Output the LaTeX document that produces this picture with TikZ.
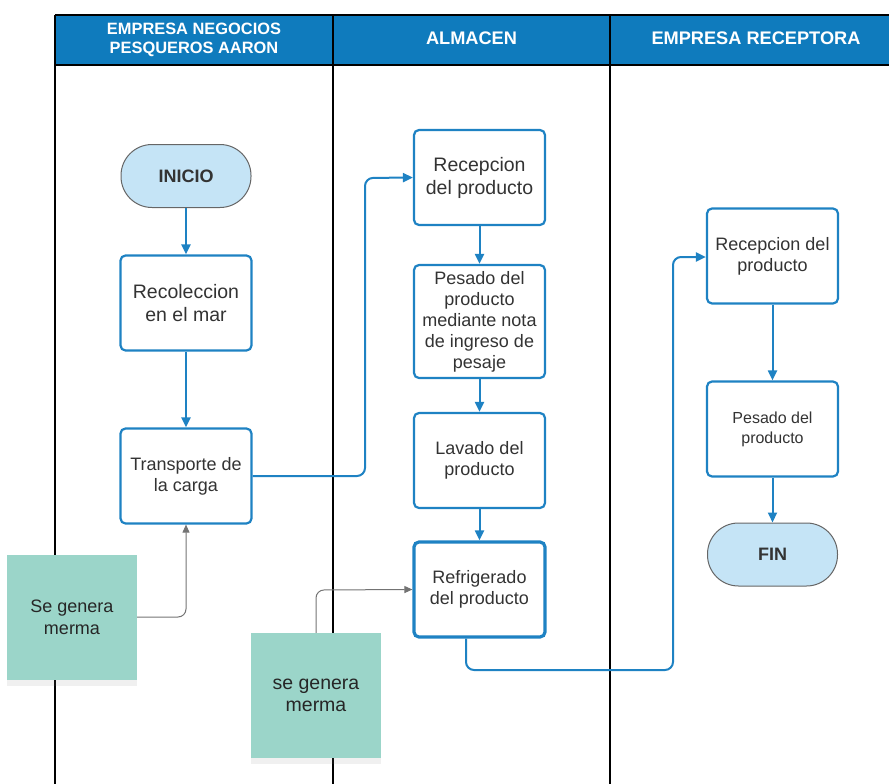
\documentclass[tikz,border=0pt]{standalone}
\usepackage{fontspec}
\setmainfont{Liberation Sans}
\usetikzlibrary{arrows.meta,shadows}
\definecolor{laneblue}{HTML}{0F7BBD}
\definecolor{boxblue}{HTML}{1E82C3}
\definecolor{termfill}{HTML}{C5E4F6}
\definecolor{notefill}{HTML}{9BD5C9}
\definecolor{txtgray}{HTML}{333333}

\begin{document}
\begin{tikzpicture}[x=1pt, y=-1pt,
    lanehead/.style={font=\bfseries\fontsize{18.2}{19}\selectfont, text=white, align=center},
    procbox/.style={draw=boxblue, line width=2.2pt, rounded corners=5pt, fill=white,
      minimum width=131pt, minimum height=95pt, align=center, text=txtgray,
      font=\fontsize{19.5}{23}\selectfont},
    termbox/.style={draw=gray!80!black, line width=1pt, rounded corners=31pt, fill=termfill,
      minimum width=130pt, minimum height=63pt, align=center, text=txtgray,
      font=\bfseries\fontsize{18}{20}\selectfont},
    notebox/.style={fill=notefill, minimum width=130pt, minimum height=125pt, align=center,
      text=black!85, font=\fontsize{18}{22}\selectfont,
      drop shadow={opacity=0.12, shadow xshift=0pt, shadow yshift=-6pt}},
    flow/.style={draw=boxblue, line width=2pt, rounded corners=8pt,
      -{Triangle[length=10pt,width=9pt]}},
    loss/.style={draw=gray!90!black, line width=1pt, rounded corners=8pt,
      -{Triangle[length=8pt,width=7pt]}}]
  \useasboundingbox (0,0) rectangle (889,784);

  % ---------- lanes ----------
  \fill[laneblue] (55,15) rectangle (889,65);
  \draw[black, line width=1.2pt] (55,15) -- (889,15);
  \draw[black, line width=1.2pt] (55,65) -- (889,65);
  \foreach \xl in {55,333,610} {
    \draw[black, line width=1.2pt] (\xl,15) -- (\xl,784);
  }
  \node[lanehead, font=\bfseries\fontsize{16.4}{19}\selectfont] (laneA) at (194,39.5) {EMPRESA NEGOCIOS\\PESQUEROS AARON};
  \node[lanehead] (laneB) at (471.5,38) {ALMACEN};
  \node[lanehead] (laneC) at (756,38) {EMPRESA RECEPTORA};

  % ---------- empresa negocios pesqueros ----------
  \node[termbox] (inicio) at (186,176) {INICIO};
  \node[procbox] (recol) at (186,303) {Recoleccion\\en el mar};
  \node[procbox, font=\fontsize{18}{21}\selectfont] (transp) at (186,476) {Transporte de\\la carga};
  \node[notebox] (merma1) at (72,617.5) {Se genera\\merma};

  % ---------- almacen ----------
  \node[procbox] (recepA) at (479.5,177.5) {Recepcion\\del producto};
  \node[procbox, minimum height=113pt, font=\fontsize{18}{21}\selectfont] (pesadoA) at (479.5,321.5)
    {Pesado del\\producto\\mediante nota\\de ingreso de\\pesaje};
  \node[procbox, font=\fontsize{18}{21}\selectfont] (lavado) at (479.5,460.5) {Lavado del\\producto};
  \node[procbox, line width=3.2pt, font=\fontsize{18}{21}\selectfont] (refrig) at (479.5,589.5) {Refrigerado\\del producto};
  \node[notebox, font=\fontsize{19.5}{22}\selectfont] (merma2) at (316,695.5) {se genera\\merma};

  % ---------- empresa receptora ----------
  \node[procbox, font=\fontsize{18}{21}\selectfont] (recepC) at (772.5,256) {Recepcion del\\producto};
  \node[procbox, font=\fontsize{16}{20}\selectfont] (pesadoC) at (772.5,429) {Pesado del\\producto};
  \node[termbox] (fin) at (772.5,554.5) {FIN};

  % ---------- flow ----------
  \draw[flow] (inicio) -- (recol);
  \draw[flow] (recol) -- (transp);
  \draw[flow] (transp.east) -- (365,476) -- (365,178) -- (recepA.west);
  \draw[flow] (recepA) -- (pesadoA);
  \draw[flow] (pesadoA) -- (lavado);
  \draw[flow] (lavado) -- (refrig);
  \draw[flow] (refrig.south -| 466,0) -- (466,670) -- (673,670) -- (673,257) -- (recepC.west |- 0,257);
  \draw[flow] (recepC) -- (pesadoC);
  \draw[flow] (pesadoC) -- (fin);

  % ---------- merma ----------
  \draw[loss] (merma1.east |- 0,617) -- (186,617) -- (transp.south);
  \draw[loss] (merma2.north) -- (316,590) -- (refrig.west);
\end{tikzpicture}
\end{document}
